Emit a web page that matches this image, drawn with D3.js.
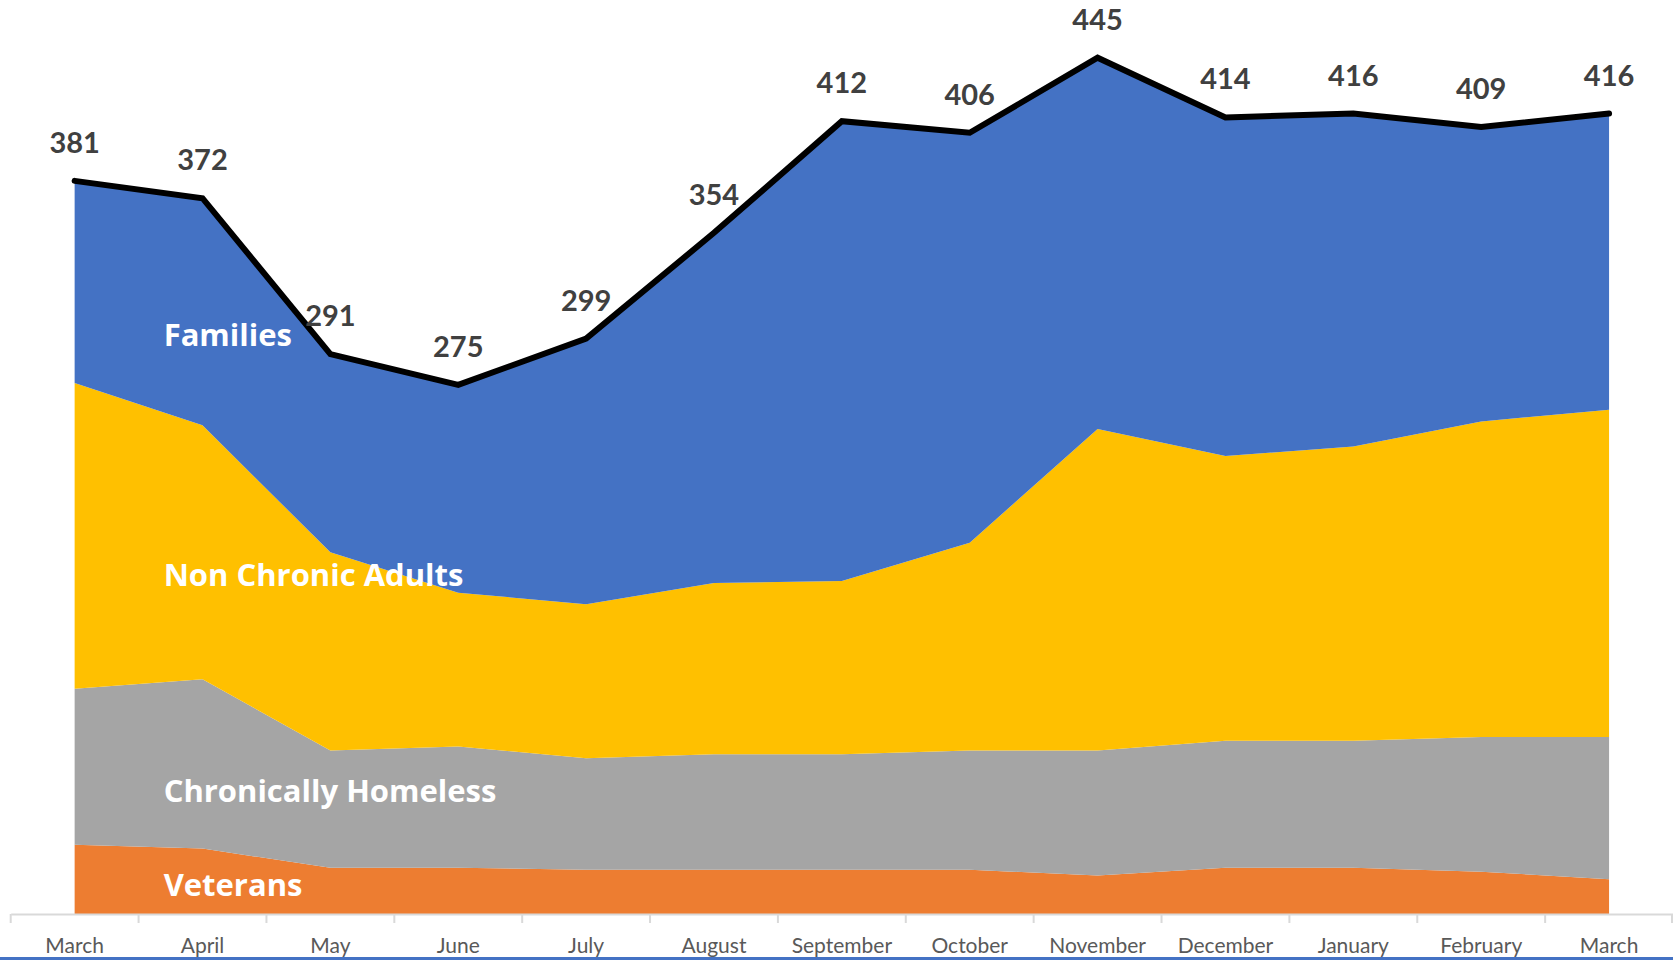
<!DOCTYPE html>
<html>
<head>
<meta charset="utf-8">
<script src="https://cdnjs.cloudflare.com/ajax/libs/d3/7.8.5/d3.min.js"></script>
<style>
  html, body { margin: 0; padding: 0; background: #fff; }
  #container { width: 1673px; height: 960px; }
</style>
</head>
<body>
<div id="container"></div>
<script>
// data
let months = ['March', 'April', 'May', 'June', 'July', 'August', 'September',
              'October', 'November', 'December', 'January', 'February', 'March'];
let veterans   = [36, 34, 24, 24, 23, 23, 23, 23, 20, 24, 24, 22, 18];
let chronic    = [81, 88, 61, 63, 58, 60, 60, 62, 65, 66, 66, 70, 74];
let nonChronic = [159, 132, 103, 80, 80, 89, 90, 108, 167, 148, 153, 164, 170];
let families   = [105, 118, 103, 108, 138, 182, 239, 213, 193, 176, 173, 153, 154];
let totals     = [381, 372, 291, 275, 299, 354, 412, 406, 445, 414, 416, 409, 416];
let seriesNames = ['Veterans', 'Chronically Homeless', 'Non Chronic Adults', 'Families'];
let seriesColors = ['#ED7D31', '#A5A5A5', '#FFC000', '#4472C4'];
let labelValues = [15, 64, 176, 301];

let w = 1673,
    h = 960;

let viz = d3.select('#container')
    .append('svg')
      .attr('width', w)
      .attr('height', h)
      .style('background', '#fff');

let idx = d3.range(months.length);

let x = d3.scaleBand()
    .domain(idx)
    .range([10.7, w]);

let y = d3.scaleLinear()
    .domain([0, 475])
    .range([914, 0]);

let cx = i => x(i) + x.bandwidth() / 2;

let rows = idx.map(i => ({
    'Veterans': veterans[i],
    'Chronically Homeless': chronic[i],
    'Non Chronic Adults': nonChronic[i],
    'Families': families[i],
    i: i
}));

let stack = d3.stack().keys(seriesNames)(rows);

let area = d3.area()
    .x(d => cx(d.data.i))
    .y0(d => y(d[0]))
    .y1(d => y(d[1]));

viz.append('g')
  .selectAll('path')
  .data(stack)
  .join('path')
    .attr('d', area)
    .attr('fill', (d, i) => seriesColors[i]);

// total line
let line = d3.line()
    .x((d, i) => cx(i))
    .y(d => y(d));

viz.append('path')
    .datum(totals)
    .attr('d', line)
    .attr('fill', 'none')
    .attr('stroke', '#000')
    .attr('stroke-width', 6)
    .attr('stroke-linejoin', 'miter')
    .attr('stroke-linecap', 'round');

// total labels
viz.append('g')
    .attr('font-family', 'Lato, Calibri, sans-serif')
    .attr('font-weight', 'bold')
    .attr('font-size', 29)
    .attr('fill', '#404040')
    .attr('text-anchor', 'middle')
  .selectAll('text')
  .data(totals)
  .join('text')
    .attr('x', (d, i) => cx(i))
    .attr('y', d => y(d) - 28)
    .text(d => d);

// series labels
viz.append('g')
    .attr('font-family', '"Open Sans", sans-serif')
    .attr('font-weight', 'bold')
    .attr('font-size', 31)
    .attr('fill', '#fff')
  .selectAll('text')
  .data(seriesNames)
  .join('text')
    .attr('x', cx(0) + 89)
    .attr('y', (d, i) => y(labelValues[i]))
    .attr('dy', '0.35em')
    .text(d => d);

// x axis
let axis = viz.append('g')
    .attr('transform', 'translate(0,' + y(0) + ')')
    .call(d3.axisBottom(x).tickSize(0).tickFormat(i => months[i]));

axis.select('.domain')
    .attr('stroke', '#D9D9D9')
    .attr('stroke-width', 2);

axis.selectAll('text')
    .attr('font-family', 'Lato, Calibri, sans-serif')
    .attr('font-size', 21)
    .attr('fill', '#595959')
    .attr('dy', 0)
    .attr('y', 39);

axis.selectAll('.bound')
  .data(idx.concat([months.length]))
  .join('line')
    .attr('class', 'bound')
    .attr('x1', i => i < months.length ? x(i) : w - 1)
    .attr('x2', i => i < months.length ? x(i) : w - 1)
    .attr('y1', 0)
    .attr('y2', 9)
    .attr('stroke', '#D9D9D9')
    .attr('stroke-width', 2);

// bottom border
viz.append('rect')
    .attr('x', 0)
    .attr('y', 957)
    .attr('width', w)
    .attr('height', 3)
    .attr('fill', '#4472C4');
</script>
</body>
</html>
